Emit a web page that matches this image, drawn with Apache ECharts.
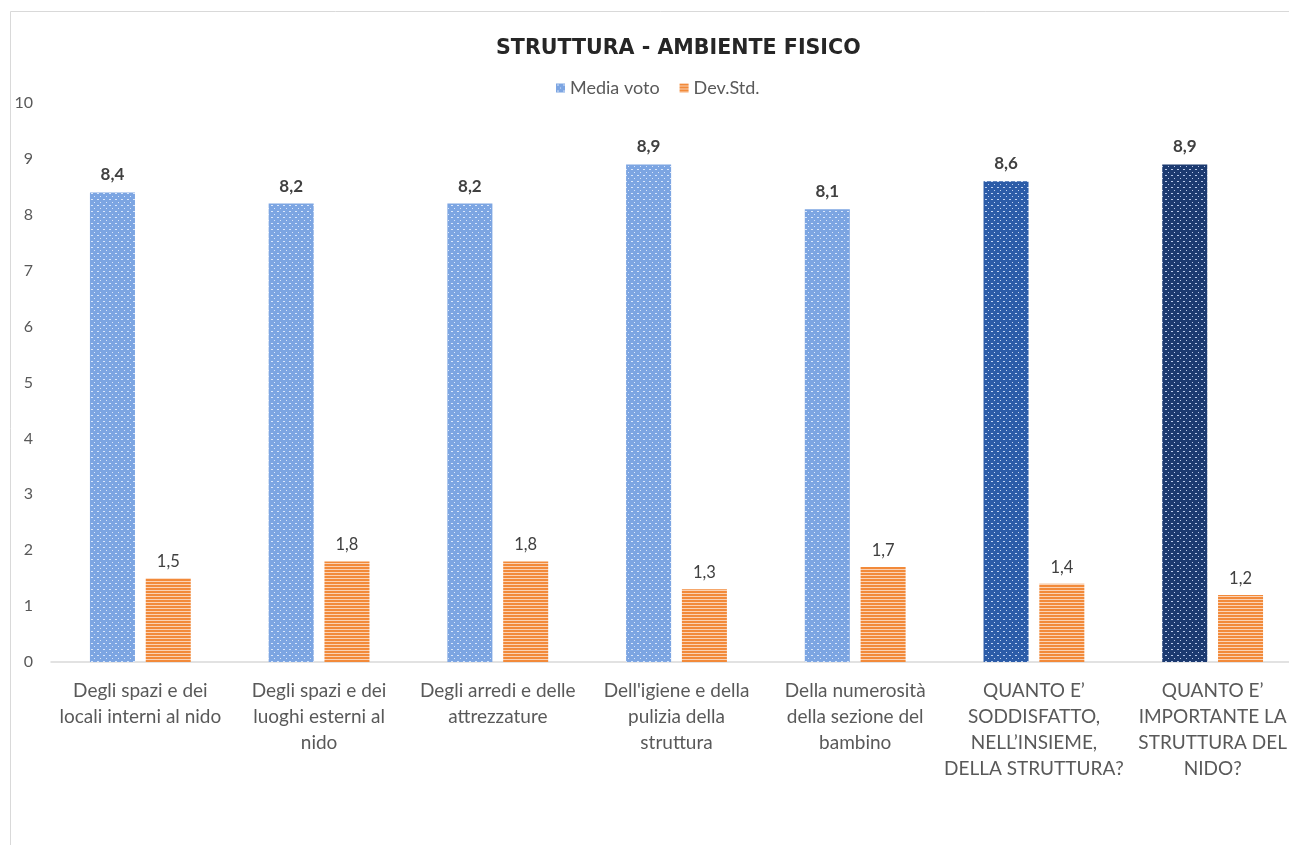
<!DOCTYPE html>
<html>
<head>
<meta charset="utf-8">
<script src="https://cdn.jsdelivr.net/npm/echarts@6/dist/echarts.min.js"></script>
<style>
  html, body { margin: 0; padding: 0; background: #fff; overflow: hidden; }
  #chart { width: 1310px; height: 845px; }
</style>
</head>
<body>
<div id="chart"></div>
<script>
// Categories (wrapped as they appear under the axis)
const categories = [
  "Degli spazi e dei\nlocali interni al nido",
  "Degli spazi e dei\nluoghi esterni al\nnido",
  "Degli arredi e delle\nattrezzature",
  "Dell'igiene e della\npulizia della\nstruttura",
  "Della numerosità\ndella sezione del\nbambino",
  "QUANTO E’\nSODDISFATTO,\nNELL’INSIEME,\nDELLA STRUTTURA?",
  "QUANTO E’\nIMPORTANTE LA\nSTRUTTURA DEL\nNIDO?"
];
const mediaVoto = [8.4, 8.2, 8.2, 8.9, 8.1, 8.6, 8.9];
const devStd = [1.5, 1.8, 1.8, 1.3, 1.7, 1.4, 1.2];
const yTicks = [0, 1, 2, 3, 4, 5, 6, 7, 8, 9, 10];

// Dotted fill for the "Media voto" bars
function dotPattern(base, dot) {
  const c = document.createElement('canvas');
  c.width = 6; c.height = 6;
  const g = c.getContext('2d');
  g.fillStyle = base; g.fillRect(0, 0, 6, 6);
  g.fillStyle = dot;
  g.fillRect(1, 1, 2, 1);
  g.fillRect(4, 4, 1, 1);
  return c;
}
// Horizontal stripes for the "Dev.Std." bars
function stripePattern(base, light) {
  const c = document.createElement('canvas');
  c.width = 4; c.height = 3;
  const g = c.getContext('2d');
  g.fillStyle = base; g.fillRect(0, 0, 4, 3);
  g.fillStyle = light; g.fillRect(0, 2, 4, 1);
  return c;
}
const blueLight = { image: dotPattern('#7ca5e2', 'rgba(235,242,255,0.85)'), repeat: 'repeat' };
const blueMid = { image: dotPattern('#2c5ca8', 'rgba(220,232,255,0.85)'), repeat: 'repeat' };
const blueDark = { image: dotPattern('#1c3a70', 'rgba(215,228,255,0.85)'), repeat: 'repeat' };
const orange = { image: stripePattern('#f28a3a', '#fbd2b4'), repeat: 'repeat' };

const blueFills = [blueLight, blueLight, blueLight, blueLight, blueLight, blueMid, blueDark];
const fmt = v => String(v).replace('.', ',');

const chart = echarts.init(document.getElementById('chart'), null, { renderer: 'canvas' });
chart.setOption({
  animation: false,
  backgroundColor: '#fff',
  textStyle: { fontFamily: 'Lato, "Open Sans", sans-serif' },
  title: {
    text: 'STRUTTURA - AMBIENTE FISICO',
    left: 491, top: 33,
    textStyle: { fontFamily: '"DejaVu Sans", sans-serif', fontWeight: 'bold', fontSize: 20.6, color: '#262626' }
  },
  legend: {
    top: 74, left: 551,
    icon: 'rect', itemWidth: 9, itemHeight: 9, itemGap: 20,
    textStyle: { fontSize: 18, color: '#595959', fontFamily: 'Lato, sans-serif' },
    data: ['Media voto', 'Dev.Std.']
  },
  graphic: [{
    type: 'rect', silent: true, z: -1,
    shape: { x: 10.5, y: 11.5, width: 1400, height: 1000 },
    style: { fill: 'none', stroke: '#d9d9d9', lineWidth: 1 }
  }],
  grid: { left: 51, top: 103, right: 8, bottom: 183, containLabel: false },
  xAxis: {
    type: 'category',
    data: categories,
    axisTick: { show: false },
    axisLine: { lineStyle: { color: '#d9d9d9', width: 1.5 } },
    axisLabel: { interval: 0, color: '#595959', fontSize: 19, lineHeight: 26, margin: 16, fontFamily: 'Lato, sans-serif' }
  },
  yAxis: {
    type: 'value', min: 0, max: 10, interval: 1,
    splitLine: { show: false },
    axisLine: { show: false },
    axisTick: { show: false },
    axisLabel: { color: '#595959', fontSize: 16, margin: 18, fontFamily: 'Lato, sans-serif',
      formatter: v => yTicks.includes(v) ? String(v) : '' }
  },
  series: [
    {
      name: 'Media voto', type: 'bar',
      barWidth: 45, barGap: '24%',
      itemStyle: { color: blueLight },
      data: mediaVoto.map((v, i) => ({ value: v, itemStyle: { color: blueFills[i] } })),
      label: { show: true, position: 'top', distance: 9, formatter: p => fmt(p.value),
        fontWeight: 'bold', fontSize: 17, color: '#404040', fontFamily: 'Lato, sans-serif' }
    },
    {
      name: 'Dev.Std.', type: 'bar',
      barWidth: 45,
      itemStyle: { color: orange },
      data: devStd,
      label: { show: true, position: 'top', distance: 8, formatter: p => fmt(p.value),
        fontSize: 16.5, color: '#404040', fontFamily: 'Lato, sans-serif' }
    }
  ]
});
</script>
</body>
</html>
